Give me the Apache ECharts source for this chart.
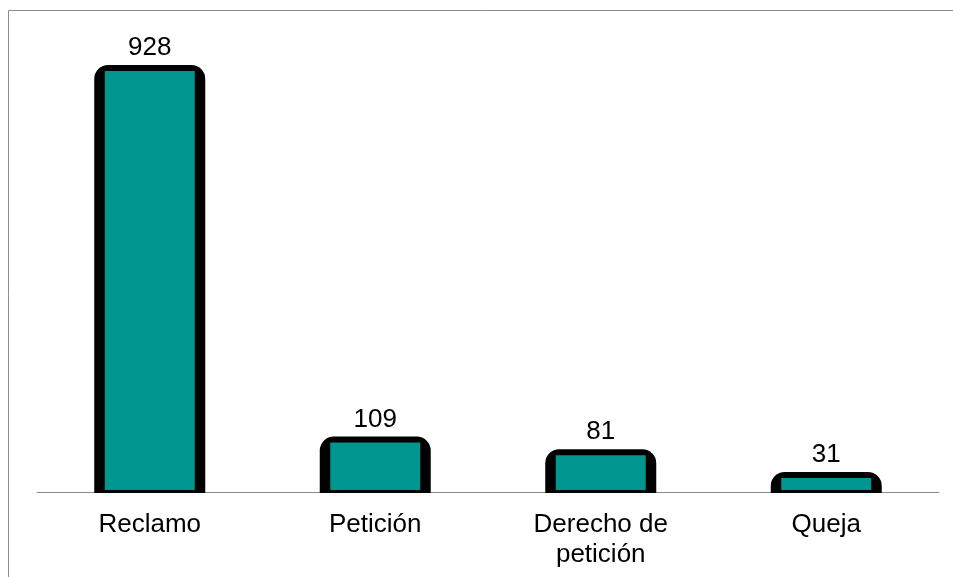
<!DOCTYPE html>
<html>
<head>
<meta charset="utf-8">
<style>
  html, body { margin: 0; padding: 0; background: #fff; }
  #chart { width: 953px; height: 577px; }
</style>
<script src="https://cdn.jsdelivr.net/npm/echarts@6/dist/echarts.min.js"></script>
</head>
<body>
<div id="chart"></div>
<script>
// Request types and their counts
const categories = ['Reclamo', 'Petición', 'Derecho de\npetición', 'Queja'];
const counts = [928, 109, 81, 31];

const FONT = 'Liberation Sans, Arial, sans-serif';
const FILL = '#00968f';

// Teal column framed by a thick black outline with rounded top corners
function renderColumn(params, api) {
  const idx = api.value(0);
  const val = api.value(1);
  const top = api.coord([idx, val]);
  const base = api.coord([idx, 0]);
  const cx = top[0];
  const outerHalf = 55.5;
  const innerHalf = 45;
  const frameTop = top[1] - 6;
  return {
    type: 'group',
    children: [
      {
        type: 'rect',
        shape: {
          x: cx - outerHalf, y: frameTop,
          width: outerHalf * 2, height: base[1] + 1 - frameTop,
          r: [14, 14, 0, 0]
        },
        style: { fill: '#000' }
      },
      {
        type: 'rect',
        shape: {
          x: cx - innerHalf, y: top[1],
          width: innerHalf * 2, height: base[1] - 2 - top[1]
        },
        style: { fill: FILL }
      },
      {
        type: 'text',
        x: cx, y: frameTop - 4,
        style: {
          text: String(val),
          fill: '#000',
          font: '26px ' + FONT,
          align: 'center',
          verticalAlign: 'bottom'
        }
      }
    ]
  };
}

const chart = echarts.init(document.getElementById('chart'));

chart.setOption({
  animation: false,
  graphic: [{
    type: 'rect',
    shape: { x: 8.5, y: 10.5, width: 1000, height: 700 },
    style: { fill: 'none', stroke: '#8c8c8c', lineWidth: 1 },
    silent: true,
    z: -10
  }],
  grid: { left: 37, right: 14, top: 38.3, bottom: 85 },
  xAxis: {
    type: 'category',
    data: categories,
    axisLine: { lineStyle: { color: '#8c8c8c', width: 1 } },
    axisTick: { show: false },
    axisLabel: {
      color: '#000',
      fontFamily: FONT,
      fontSize: 26,
      lineHeight: 30,
      margin: 18,
      interval: 0
    }
  },
  yAxis: {
    type: 'value',
    min: 0,
    max: 1000,
    show: false,
    splitLine: { show: false }
  },
  series: [{
    type: 'custom',
    renderItem: renderColumn,
    data: counts.map((v, i) => [i, v]),
    encode: { x: 0, y: 1 }
  }]
});
</script>
</body>
</html>
